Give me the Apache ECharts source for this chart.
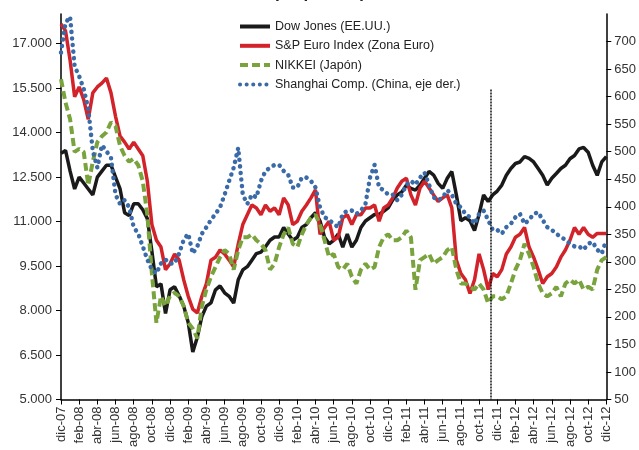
<!DOCTYPE html>
<html>
<head>
<meta charset="utf-8">
<script src="https://cdn.jsdelivr.net/npm/echarts@6/dist/echarts.min.js"></script>
<style>
  html, body { margin: 0; padding: 0; background: #fff; }
  #chart { width: 639px; height: 450px; }
</style>
</head>
<body>
<div id="chart"></div>
<script>
// etiquetas del eje X (cada 2 meses); los datos van por quincenas (índice 0 = dic-07, 120 = dic-12)
var tickLabels = ['dic-07', 'feb-08', 'abr-08', 'jun-08', 'ago-08', 'oct-08', 'dic-08', 'feb-09', 'abr-09', 'jun-09',
  'ago-09', 'oct-09', 'dic-09', 'feb-10', 'abr-10', 'jun-10', 'ago-10', 'oct-10', 'dic-10', 'feb-11',
  'abr-11', 'jun-11', 'ago-11', 'oct-11', 'dic-11', 'feb-12', 'abr-12', 'jun-12', 'ago-12', 'oct-12', 'dic-12'];

var leftTicks = [5000, 6500, 8000, 9500, 11000, 12500, 14000, 15500, 17000];
var rightTicks = [50, 100, 150, 200, 250, 300, 350, 400, 450, 500, 550, 600, 650, 700];

// Dow Jones (EE.UU.), eje izq.
var dowJones = [13300, 13400, 12700, 12100, 12500, 12300, 12100, 11900, 12500, 12700,
  12900, 12900, 12500, 12100, 11300, 11200, 11600, 11600, 11400, 11100,
  10000, 8800, 8900, 7900, 8700, 8800, 8500, 8150, 7600, 6600,
  7100, 7800, 8150, 8260, 8700, 8830, 8600, 8480, 8250, 9040,
  9370, 9480, 9700, 9920, 9970, 10150, 10370, 10480, 10480, 10800,
  10580, 10370, 10470, 10800, 10900, 11130, 11300, 11020, 10470, 10250,
  10370, 10580, 10140, 10580, 10140, 10370, 10800, 11020, 11130, 11240,
  11240, 11350, 11460, 11730, 11900, 12000, 12230, 12120, 12060, 12230,
  12460, 12690, 12570, 12290, 12120, 12460, 12690, 11900, 11030, 11130,
  11030, 10700, 11240, 11900, 11680, 11900, 12030, 12230, 12560, 12790,
  12960, 13010, 13190, 13130, 13010, 12790, 12560, 12230, 12460, 12620,
  12790, 12900, 13120, 13230, 13450, 13500, 13340, 12900, 12560, 13010,
  13190];

// S&P Euro Index (Zona Euro), eje izq.
var spEuro = [17660, 17430, 16440, 15210, 15540, 15110, 14450, 15340, 15540, 15670,
  15840, 15340, 14550, 13880, 13680, 13450, 13680, 13450, 13220, 12360,
  10900, 10370, 10140, 9380, 9580, 9910, 9700, 9040, 8480, 8050,
  7920, 8480, 8910, 9700, 9800, 10040, 9910, 9700, 9470, 10240,
  10900, 11230, 11560, 11460, 11230, 11560, 11350, 11460, 11230, 11800,
  11560, 10900, 11010, 11350, 11560, 11800, 12070, 10570, 10800, 11010,
  10370, 10480, 11130, 11230, 10900, 11230, 11230, 11460, 11460, 11560,
  11010, 11460, 11560, 11800, 12130, 12360, 12460, 11900, 11560, 12130,
  12360, 12130, 11900, 11680, 11800, 11900, 11460, 9700, 9250, 9040,
  8580, 9040, 9910, 9380, 8710, 9250, 9140, 9380, 9910, 10140,
  10470, 10570, 10800, 10140, 9800, 9380, 8910, 9140, 9250, 9470,
  9800, 10040, 10370, 10800, 10570, 10800, 10570, 10470, 10600, 10600,
  10600];

// NIKKEI (Japón), eje izq.
var nikkei = [15800, 15010, 14450, 13350, 13450, 13350, 12230, 13020, 13680, 13880,
  14010, 14350, 14220, 13550, 13220, 13020, 13120, 12900, 12360, 11230,
  9250, 7590, 8480, 8150, 8500, 8600, 8480, 8150, 7590, 7390,
  7060, 8150, 8710, 9140, 9470, 9800, 10040, 9910, 9380, 10040,
  10470, 10470, 10570, 10370, 10250, 10040, 9380, 9580, 10140, 10570,
  10800, 10250, 10140, 10570, 10900, 11130, 11230, 10900, 10370, 9800,
  9910, 9470, 9380, 9580, 9140, 8910, 9380, 9580, 9380, 9470,
  10140, 10470, 10570, 10370, 10370, 10470, 10700, 10470, 8700, 9700,
  9800, 9910, 9580, 9700, 9800, 10040, 10140, 9380, 8910, 8910,
  8800, 8710, 8910, 8710, 8250, 8480, 8480, 8380, 8480, 8910,
  9380, 9700, 10250, 9910, 9470, 8910, 8580, 8480, 8580, 8800,
  8480, 8910, 9040, 8910, 9040, 8710, 8800, 8710, 9380, 9700,
  9800];

// Shanghai Comp. (China), eje der.
var shanghai = [680, 734, 745, 655, 637, 614, 578, 501, 471, 512,
  501, 489, 422, 405, 412, 399, 363, 351, 328, 304,
  286, 279, 297, 304, 297, 297, 315, 340, 351, 315,
  328, 351, 363, 376, 387, 399, 422, 447, 471, 507,
  422, 405, 422, 417, 447, 465, 471, 476, 476, 465,
  458, 435, 435, 453, 453, 447, 435, 399, 381, 376,
  369, 363, 387, 393, 393, 387, 393, 405, 453, 476,
  435, 430, 422, 422, 412, 422, 440, 447, 440, 453,
  462, 440, 417, 412, 417, 430, 422, 405, 399, 387,
  381, 369, 387, 393, 376, 358, 358, 351, 363, 369,
  381, 387, 369, 376, 387, 390, 376, 363, 358, 351,
  345, 340, 333, 328, 328, 322, 333, 336, 322, 315,
  340];

// fecha marcada con la línea vertical (quincena ~94.5 = mediados de nov-11)
var markIndex = 94.5;

function toPairs(arr) {
  return arr.map(function(v, i) { return [i, v]; });
}

function miles(v) {
  return String(v).replace(/\B(?=(\d{3})+(?!\d))/g, '.');
}

var chart = echarts.init(document.getElementById('chart'));

var axisText = { color: '#333', fontSize: 13, fontFamily: 'Liberation Sans, Arial, sans-serif' };

var option = {
  animation: false,
  backgroundColor: '#fff',
  graphic: [{
    type: 'text',
    left: 'center',
    top: -15,
    style: {
      text: '(en puntos)',
      font: 'bold 17px "Liberation Sans", Arial, sans-serif',
      fill: '#222'
    }
  }],
  legend: {
    orient: 'vertical',
    left: 233,
    top: 15,
    itemWidth: 30,
    itemHeight: 14,
    itemGap: 6.3,
    itemStyle: { opacity: 0 },
    lineStyle: { width: 4 },
    textStyle: { color: '#222', fontSize: 12.5, fontFamily: 'Liberation Sans, Arial, sans-serif' },
    data: ['Dow Jones (EE.UU.)', 'S&P Euro Index (Zona Euro)', 'NIKKEI (Japón)', 'Shanghai Comp. (China, eje der.)']
  },
  grid: { left: 61, right: 32, top: 14, bottom: 45 },
  xAxis: {
    type: 'value',
    min: 0,
    max: 120,
    interval: 4,
    axisLine: { lineStyle: { color: '#000', width: 1.5 } },
    axisTick: { length: 5, lineStyle: { color: '#000' } },
    axisLabel: Object.assign({
      rotate: 90,
      margin: 7,
      formatter: function(v) { return tickLabels[v / 4]; }
    }, axisText),
    splitLine: { show: false }
  },
  yAxis: [{
    type: 'value',
    position: 'left',
    min: 5000,
    max: 18000,
    axisLine: { show: true, lineStyle: { color: '#000', width: 1.5 } },
    axisTick: { show: true, length: 5, customValues: leftTicks, lineStyle: { color: '#000' } },
    axisLabel: Object.assign({
      customValues: leftTicks,
      margin: 9,
      formatter: function(v) { return miles(v); }
    }, axisText),
    splitLine: { show: false }
  }, {
    type: 'value',
    position: 'right',
    min: 50,
    max: 750,
    axisLine: { show: true, lineStyle: { color: '#000', width: 1.5 } },
    axisTick: { show: true, length: 5, customValues: rightTicks, lineStyle: { color: '#000' } },
    axisLabel: Object.assign({ customValues: rightTicks, margin: 8 }, axisText),
    splitLine: { show: false }
  }],
  series: [{
    name: 'Dow Jones (EE.UU.)',
    type: 'line',
    yAxisIndex: 0,
    symbol: 'none',
    data: toPairs(dowJones),
    itemStyle: { color: '#1a1a1a' },
    lineStyle: { color: '#1a1a1a', width: 3.5 },
    markLine: {
      silent: true,
      symbol: 'none',
      label: { show: false },
      lineStyle: { color: '#111', width: 1.5, type: [2, 1] },
      data: [[{ coord: [markIndex, 15450] }, { coord: [markIndex, 5000] }]]
    }
  }, {
    name: 'S&P Euro Index (Zona Euro)',
    type: 'line',
    yAxisIndex: 0,
    symbol: 'none',
    data: toPairs(spEuro),
    itemStyle: { color: '#d2232a' },
    lineStyle: { color: '#d2232a', width: 3.5 }
  }, {
    name: 'NIKKEI (Japón)',
    type: 'line',
    yAxisIndex: 0,
    symbol: 'none',
    data: toPairs(nikkei),
    itemStyle: { color: '#79a33c' },
    lineStyle: { color: '#79a33c', width: 4, type: [8, 4] }
  }, {
    name: 'Shanghai Comp. (China, eje der.)',
    type: 'line',
    yAxisIndex: 1,
    symbol: 'none',
    data: toPairs(shanghai),
    itemStyle: { color: '#3a6ba8' },
    lineStyle: { color: '#3a6ba8', width: 4.5, type: [0.1, 6.5], cap: 'round' }
  }]
};

chart.setOption(option);
</script>
</body>
</html>
